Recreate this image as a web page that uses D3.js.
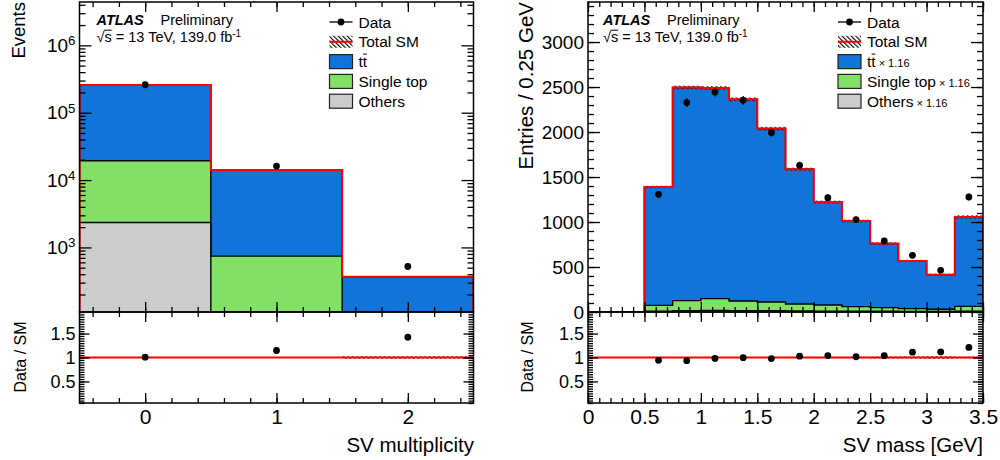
<!DOCTYPE html>
<html>
<head>
<meta charset="utf-8">
<script src="https://cdn.jsdelivr.net/npm/d3@7"></script>
<style>
body{margin:0;background:#fff}
svg{font-family:"Liberation Sans",Arial,Helvetica,sans-serif}
</style>
</head>
<body>
<div id="chart"></div>
<script>
// SV multiplicity (left), stacked
const multBins=[0,1,2]
const multTtbar=[238600,13360,344]
const multSingleTop=[17050,712,20]
const multOthers=[2350,30,2]
const multData=[260000,16160,521]
const multErr=[0.002,0.004,0.025]

// SV mass (right), bin low edges, width 0.25 GeV, already scaled x 1.16
const massLow=[0,0.25,0.5,0.75,1.0,1.25,1.5,1.75,2.0,2.25,2.5,2.75,3.0,3.25]
const massTtbar=[0,0,1315,2369,2341,2241,1927,1497,1144,951,711,529,385,993]
const massSingleTop=[0,0,64,112,131,107,97,77,68,51,41,32,25,54]
const massOthers=[0,0,10,14,18,15,14,12,10,9,8,6,5,9]
const massData=[0,0,1308,2327,2444,2352,1993,1630,1271,1027,789,630,463,1278]
const massErr=[0,0,0.01,0.008,0.008,0.009,0.01,0.011,0.013,0.015,0.02,0.022,0.027,0.018]

// ticks
const multTicks=[0,1,2]
const eventTicks=[1e3,1e4,1e5,1e6]
const massTicks=[0,0.5,1,1.5,2,2.5,3,3.5]
const entryTicks=[0,500,1000,1500,2000,2500,3000]
const ratioTicks=[0.5,1,1.5]

const colors={ttbar:'#1174d9',single:'#82e066',others:'#cccccc',total:'#ff0000'}

const svg=d3.select('#chart').append('svg')
	.attr('width',1000)
	.attr('height',460)

const defs=svg.append('defs')
defs.append('pattern')
	.attr('id','hatch')
	.attr('width',3.2).attr('height',3.2)
	.attr('patternUnits','userSpaceOnUse')
	.attr('patternTransform','rotate(-45)')
	.append('line')
	.attr('x1',0.6).attr('y1',0).attr('x2',0.6).attr('y2',3.2)
	.attr('stroke','#000').attr('stroke-width',1.1)

const yTop=2, yMid=312, yBot=403

function stepPath(x,y,lows,w,vals,base){
	const pts=[[lows[0],base]]
	lows.forEach((l,i)=>pts.push([l,vals[i]]))
	const hi=lows[lows.length-1]+w
	pts.push([hi,vals[vals.length-1]])
	pts.push([hi,base])
	return d3.line().x(d=>x(d[0])).y(d=>y(d[1])).curve(d3.curveStepAfter)(pts)
}

function addClip(id,x0,x1,y0,y1){
	defs.append('clipPath').attr('id',id)
		.append('rect').attr('x',x0).attr('y',y0).attr('width',x1-x0).attr('height',y1-y0)
}

// ROOT-like inward ticks on all four sides
function ticksY(g,y,x0,x1,majors,minors,fmt,size,majLen,minLen){
	const a=g.append('g').attr('transform',`translate(${x0},0)`)
		.call(d3.axisLeft(y).tickValues(majors).tickSize(-majLen).tickPadding(4).tickFormat(fmt))
	a.select('.domain').remove()
	a.selectAll('text').attr('font-size',size).attr('font-family',null).attr('fill','#000')
	const m=g.append('g').attr('transform',`translate(${x0},0)`)
		.call(d3.axisLeft(y).tickValues(minors).tickSize(-minLen).tickFormat(''))
	m.select('.domain').remove()
	const r=g.append('g').attr('transform',`translate(${x1},0)`)
		.call(d3.axisRight(y).tickValues(majors).tickSize(-majLen).tickFormat(''))
	r.select('.domain').remove()
	const rm=g.append('g').attr('transform',`translate(${x1},0)`)
		.call(d3.axisRight(y).tickValues(minors).tickSize(-minLen).tickFormat(''))
	rm.select('.domain').remove()
	g.selectAll('.tick line').attr('stroke','#000').attr('stroke-width',1.3)
	return a
}

function ticksX(g,x,yb,yt,majors,minors,labels,majLen,minLen){
	const a=g.append('g').attr('transform',`translate(0,${yb})`)
		.call(d3.axisBottom(x).tickValues(majors).tickSize(-majLen).tickPadding(6)
			.tickFormat(labels?(d=>String(d)):''))
	a.select('.domain').remove()
	a.selectAll('text').attr('font-size',21).attr('font-family',null).attr('fill','#000')
	const m=g.append('g').attr('transform',`translate(0,${yb})`)
		.call(d3.axisBottom(x).tickValues(minors).tickSize(-minLen).tickFormat(''))
	m.select('.domain').remove()
	const t=g.append('g').attr('transform',`translate(0,${yt})`)
		.call(d3.axisTop(x).tickValues(majors).tickSize(-majLen).tickFormat(''))
	t.select('.domain').remove()
	const tm=g.append('g').attr('transform',`translate(0,${yt})`)
		.call(d3.axisTop(x).tickValues(minors).tickSize(-minLen).tickFormat(''))
	tm.select('.domain').remove()
	g.selectAll('.tick line').attr('stroke','#000').attr('stroke-width',1.3)
}

function minorRange(lo,hi,step){
	const out=[]
	for(let v=lo;v<=hi+1e-9;v+=step) out.push(+v.toFixed(4))
	return out
}

function drawPanel(cfg){
	const {id,x,y,lows,w,layers,total,data,err,base}=cfg
	const x0=x.range()[0], x1=x.range()[1]
	addClip(id+'-main',x0,x1,yTop,yMid)
	addClip(id+'-ratio',x0,x1,yMid,yBot)
	const g=svg.append('g')
	const main=g.append('g').attr('clip-path',`url(#${id}-main)`)

	// stacked layers drawn from the top down
	layers.forEach(l=>{
		main.append('path')
			.attr('d',stepPath(x,y,lows,w,l.vals,base))
			.attr('fill',l.color)
			.attr('stroke','#000')
			.attr('stroke-width',1.4)
	})

	// stat band on total
	main.selectAll('.band').data(lows.map((l,i)=>({l,t:total[i],e:err[i]})).filter(d=>d.t>0))
		.enter().append('rect')
		.attr('x',d=>x(d.l))
		.attr('width',d=>x(d.l+w)-x(d.l))
		.attr('y',d=>y(d.t*(1+d.e)))
		.attr('height',d=>Math.max(y(d.t*(1-d.e))-y(d.t*(1+d.e)),0))
		.attr('fill','url(#hatch)')

	main.append('path')
		.attr('d',stepPath(x,y,lows,w,total,base))
		.attr('fill','none')
		.attr('stroke',colors.total)
		.attr('stroke-width',2)

	const pts=lows.map((l,i)=>({c:l+w/2,v:data[i],t:total[i]})).filter(d=>d.v>0)
	main.selectAll('.err').data(pts).enter().append('line')
		.attr('x1',d=>x(d.c)).attr('x2',d=>x(d.c))
		.attr('y1',d=>y(d.v+Math.sqrt(d.v))).attr('y2',d=>y(d.v-Math.sqrt(d.v)))
		.attr('stroke','#000').attr('stroke-width',1.3)
	main.selectAll('.pt').data(pts).enter().append('circle')
		.attr('cx',d=>x(d.c)).attr('cy',d=>y(d.v)).attr('r',3.4).attr('fill','#000')

	// ratio
	const yr=d3.scaleLinear().domain([0.05,1.95]).range([yBot,yMid])
	const rat=g.append('g').attr('clip-path',`url(#${id}-ratio)`)
	rat.selectAll('.rband').data(lows.map((l,i)=>({l,t:total[i],e:err[i]})).filter(d=>d.t>0))
		.enter().append('rect')
		.attr('x',d=>x(d.l))
		.attr('width',d=>x(d.l+w)-x(d.l))
		.attr('y',d=>yr(1+d.e))
		.attr('height',d=>yr(1-d.e)-yr(1+d.e))
		.attr('fill','url(#hatch)')
	rat.append('line')
		.attr('x1',x0).attr('x2',x1).attr('y1',yr(1)).attr('y2',yr(1))
		.attr('stroke',colors.total).attr('stroke-width',2)
	const rp=pts.filter(d=>d.t>0)
	rat.selectAll('.rerr').data(rp).enter().append('line')
		.attr('x1',d=>x(d.c)).attr('x2',d=>x(d.c))
		.attr('y1',d=>yr((d.v+Math.sqrt(d.v))/d.t)).attr('y2',d=>yr((d.v-Math.sqrt(d.v))/d.t))
		.attr('stroke','#000').attr('stroke-width',1.3)
	rat.selectAll('.rpt').data(rp).enter().append('circle')
		.attr('cx',d=>x(d.c)).attr('cy',d=>yr(d.v/d.t)).attr('r',3.4).attr('fill','#000')

	// frames
	g.append('rect').attr('x',x0).attr('y',yTop).attr('width',x1-x0).attr('height',yMid-yTop)
		.attr('fill','none').attr('stroke','#000').attr('stroke-width',1.5)
	g.append('rect').attr('x',x0).attr('y',yMid).attr('width',x1-x0).attr('height',yBot-yMid)
		.attr('fill','none').attr('stroke','#000').attr('stroke-width',1.5)

	ticksY(g,yr,x0,x1,ratioTicks,minorRange(0.05,1.95,0.05),d=>String(d),18,10,5)
	return {g,yr}
}

function legend(x,y0,entries){
	const lg=svg.append('g')
	entries.forEach((e,i)=>{
		const y=y0+i*19.8
		const row=lg.append('g').attr('transform',`translate(${x},${y})`)
		if(e.type==='data'){
			row.append('line').attr('x1',0).attr('x2',23).attr('y1',0).attr('y2',0)
				.attr('stroke','#000').attr('stroke-width',1.3)
			row.append('circle').attr('cx',11.5).attr('cy',0).attr('r',3.4)
		}else if(e.type==='total'){
			row.append('rect').attr('x',0).attr('y',-6).attr('width',23).attr('height',12)
				.attr('fill','url(#hatch)')
			row.append('line').attr('x1',0).attr('x2',23).attr('y1',0).attr('y2',0)
				.attr('stroke',colors.total).attr('stroke-width',2)
		}else{
			row.append('rect').attr('x',0).attr('y',-7).attr('width',23).attr('height',14)
				.attr('fill',e.color).attr('stroke','#222').attr('stroke-width',1.2)
		}
		const t=row.append('text').attr('x',29).attr('y',0).attr('dy','0.36em')
			.attr('font-size',15.5).text(e.label)
		if(e.bar){
			// ttbar: bar over the second t
			const n=t.node()
			const a=n.getSubStringLength(0,1), b=n.getSubStringLength(1,1)
			row.append('line').attr('x1',29+a+0.3).attr('x2',29+a+b-0.3)
				.attr('y1',-7.5).attr('y2',-7.5).attr('stroke','#000').attr('stroke-width',1)
		}
		if(e.scale){
			t.append('tspan').attr('font-size',11).attr('dx',3).text(e.scale)
		}
	})
}

function atlasLabel(x){
	const t=svg.append('text').attr('x',x).attr('y',25).attr('font-size',14.5)
	t.append('tspan').attr('font-weight','bold').attr('font-style','italic').text('ATLAS')
	t.append('tspan').attr('x',x+64).text('Preliminary')
	const s=svg.append('text').attr('x',x).attr('y',41.5).attr('font-size',14.5)
	s.text('√s = 13 TeV, 139.0 fb')
	s.append('tspan').attr('dy',-5).attr('font-size',10).text('-1')
	const n=s.node()
	const a=n.getSubStringLength(0,1), b=n.getSubStringLength(1,1)
	svg.append('line').attr('x1',x+a-0.5).attr('x2',x+a+b).attr('y1',30.2).attr('y2',30.2)
		.attr('stroke','#000').attr('stroke-width',1)
}

// ---------- left: SV multiplicity ----------
const xL=d3.scaleLinear().domain([-0.5,2.5]).range([79.5,473.5])
const yL=d3.scaleLog().domain([110,4.4e6]).range([yMid,yTop]).clamp(true)
const multCumGreen=multSingleTop.map((v,i)=>v+multOthers[i])
const multTotal=multTtbar.map((v,i)=>v+multCumGreen[i])
const multLow=multBins.map(b=>b-0.5)

const left=drawPanel({
	id:'mult',x:xL,y:yL,lows:multLow,w:1,
	layers:[
		{vals:multTotal,color:colors.ttbar},
		{vals:multCumGreen,color:colors.single},
		{vals:multOthers,color:colors.others}
	],
	total:multTotal,data:multData,err:multErr,base:110
})
const logMinor=[]
for(let k=2;k<=6;k++) for(let m=2;m<=9;m++){const v=m*Math.pow(10,k); if(v>=110&&v<=4.4e6) logMinor.push(v)}
const lax=ticksY(left.g,yL,79.5,473.5,eventTicks,logMinor,()=>'10',19,12,6)
lax.selectAll('text').each(function(d){
	d3.select(this).append('tspan').attr('dy','-0.5em').attr('font-size','0.7em').text(Math.round(Math.log10(d)))
})
ticksX(left.g,xL,yMid,yTop,multTicks,minorRange(-0.4,2.4,0.2),false,10,5)
ticksX(left.g,xL,yBot,yMid,multTicks,minorRange(-0.4,2.4,0.2),true,10,5)

// ---------- right: SV mass ----------
const xR=d3.scaleLinear().domain([0,3.5]).range([588,983])
const yR=d3.scaleLinear().domain([0,3445]).range([yMid,yTop])
const massCumGreen=massSingleTop.map((v,i)=>v+massOthers[i])
const massTotal=massTtbar.map((v,i)=>v+massCumGreen[i])

const right=drawPanel({
	id:'mass',x:xR,y:yR,lows:massLow,w:0.25,
	layers:[
		{vals:massTotal,color:colors.ttbar},
		{vals:massCumGreen,color:colors.single},
		{vals:massOthers,color:colors.others}
	],
	total:massTotal,data:massData,err:massErr,base:0
})
ticksY(right.g,yR,588,983,entryTicks,minorRange(0,3400,100),d=>String(d),19,12,6)
ticksX(right.g,xR,yMid,yTop,massTicks,minorRange(0,3.5,0.1),false,10,5)
ticksX(right.g,xR,yBot,yMid,massTicks,minorRange(0,3.5,0.1),true,10,5)

// ---------- titles ----------
svg.append('text').attr('transform','translate(25,2) rotate(-90)').attr('text-anchor','end')
	.attr('font-size',18.5).text('Events')
svg.append('text').attr('transform','translate(533,2) rotate(-90)').attr('text-anchor','end')
	.attr('font-size',20.5).text('Entries / 0.25 GeV')
svg.append('text').attr('transform','translate(26,357) rotate(-90)').attr('text-anchor','middle')
	.attr('font-size',16).text('Data / SM')
svg.append('text').attr('transform','translate(533,357) rotate(-90)').attr('text-anchor','middle')
	.attr('font-size',16).text('Data / SM')
svg.append('text').attr('x',474).attr('y',452).attr('text-anchor','end')
	.attr('font-size',20.5).text('SV multiplicity')
svg.append('text').attr('x',983).attr('y',452).attr('text-anchor','end')
	.attr('font-size',20.5).text('SV mass [GeV]')

atlasLabel(96.5)
atlasLabel(603)

legend(329.5,22,[
	{type:'data',label:'Data'},
	{type:'total',label:'Total SM'},
	{label:'tt',color:colors.ttbar,bar:true},
	{label:'Single top',color:colors.single},
	{label:'Others',color:colors.others}
])
legend(838,22,[
	{type:'data',label:'Data'},
	{type:'total',label:'Total SM'},
	{label:'tt',color:colors.ttbar,bar:true,scale:'× 1.16'},
	{label:'Single top',color:colors.single,scale:'× 1.16'},
	{label:'Others',color:colors.others,scale:'× 1.16'}
])
</script>
</body>
</html>
